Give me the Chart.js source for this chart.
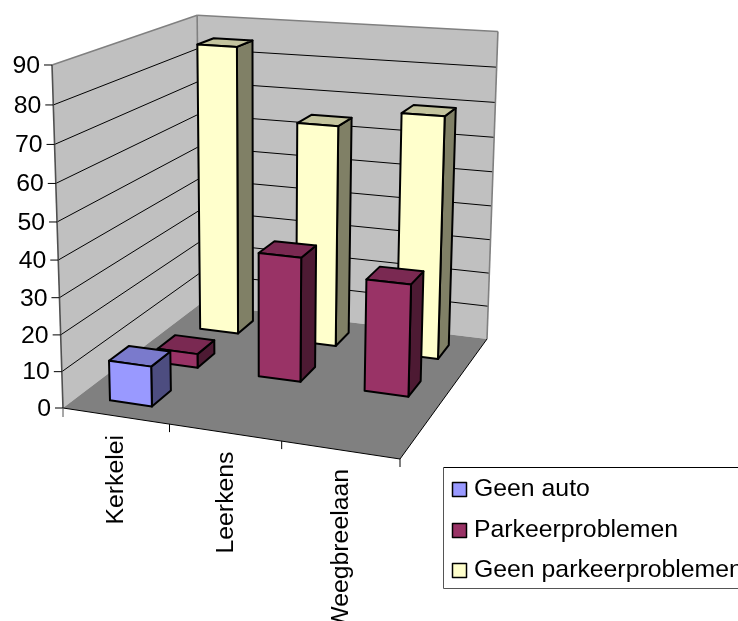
<!DOCTYPE html>
<html>
<head>
<meta charset="utf-8">
<style>html,body{margin:0;padding:0;background:#fff;overflow:hidden}canvas{display:block}</style>
<script src="https://cdn.jsdelivr.net/npm/chart.js@4"></script>
</head>
<body>
<canvas id="c" width="738" height="621"></canvas>
<script>
const categories = ["Kerkelei", "Leerkens", "Weegbreelaan"];
const seriesNames = ["Geen auto", "Parkeerproblemen", "Geen parkeerproblemen"];
const geenAuto = [11, null, null];
const parkeerproblemen = [4, 35, 31];
const geenParkeerproblemen = [85, 64.5, 69.5];
const valueTicks = [0, 10, 20, 30, 40, 50, 60, 70, 80, 90];

const faceColors = [
  {front:"#9999FF", top:"#7A7ACC", side:"#4D4D80"},
  {front:"#993366", top:"#7A2952", side:"#4D1A33"},
  {front:"#FFFFCC", top:"#C4C49E", side:"#808066"}
];
const FONT = '24.8px "Liberation Sans", Arial, sans-serif';
const BAR_FRACTION = 0.4;

// Perspective frame of the floor plus the vanishing point of the verticals
const floor = {x00:63,y00:408, x10:400,y10:459, x11:487,y11:339, x01:200,y01:304};
const vanish = {x:263, y:6650, k:-0.05209};

function makeProjection(q){
  const dx1=q.x10-q.x11, dx2=q.x01-q.x11, sx=q.x00-q.x10+q.x11-q.x01;
  const dy1=q.y10-q.y11, dy2=q.y01-q.y11, sy=q.y00-q.y10+q.y11-q.y01;
  const det=dx1*dy2-dx2*dy1;
  const g=(sx*dy2-dx2*sy)/det, h=(dx1*sy-sx*dy1)/det;
  const a=q.x10-q.x00+g*q.x10, b=q.x01-q.x00+h*q.x01, c=q.x00;
  const d=q.y10-q.y00+g*q.y10, e=q.y01-q.y00+h*q.y01, f=q.y00;
  return (u,w,t)=>{
    const kt=vanish.k*t, W=g*u+h*w+1+kt;
    return [(a*u+b*w+c+kt*vanish.x)/W,(d*u+e*w+f+kt*vanish.y)/W];
  };
}
const project = makeProjection(floor);

function poly(ctx,pts,fill,stroke,lw){
  ctx.beginPath();
  pts.forEach((p,i)=>i?ctx.lineTo(p[0],p[1]):ctx.moveTo(p[0],p[1]));
  ctx.closePath();
  if(fill){ctx.fillStyle=fill;ctx.fill();}
  if(stroke){ctx.strokeStyle=stroke;ctx.lineWidth=lw;ctx.lineJoin="round";ctx.stroke();}
}
function line(ctx,a,b,color,lw){
  ctx.beginPath();ctx.moveTo(a[0],a[1]);ctx.lineTo(b[0],b[1]);
  ctx.strokeStyle=color;ctx.lineWidth=lw;ctx.stroke();
}

const scene3d = {
  id:"scene3d",
  beforeDatasetDraw(){return false;},
  beforeDatasetsDraw(chart){
    const ctx=chart.ctx, sx=chart.scales.x, sy=chart.scales.y, sz=chart.scales.z;
    const U=i=>(sx.getPixelForValue(i)-sx.left)/sx.width;
    const W=j=>(sz.getPixelForValue(j)-sz.left)/sz.width;
    const T=v=>(sy.bottom-sy.getPixelForValue(v))/sy.height;
    ctx.save();
    // walls
    poly(ctx,[project(0,0,0),project(0,1,0),project(0,1,1),project(0,0,1)],"#C0C0C0");
    poly(ctx,[project(0,1,0),project(1,1,0),project(1,1,1),project(0,1,1)],"#C0C0C0");
    // gridlines
    valueTicks.forEach(v=>{
      if(v===0||v===90) return;
      const t=T(v);
      line(ctx,project(0,0,t),project(0,1,t),"#000",1);
      line(ctx,project(0,1,t),project(1,1,t),"#000",1);
    });
    // wall borders
    line(ctx,project(0,0,1),project(0,1,1),"#808080",1.6);
    line(ctx,project(0,1,1),project(1,1,1),"#808080",1.6);
    line(ctx,project(1,1,1),project(1,1,0),"#808080",1.6);
    line(ctx,project(0,1,1),project(0,1,0),"#808080",1.6);
    line(ctx,project(0,0,1),project(0,0,0),"#505050",1.6);
    // floor
    poly(ctx,[project(0,0,0),project(1,0,0),project(1,1,0),project(0,1,0)],"#808080");
    line(ctx,project(0,0,0),project(1,0,0),"#000",1);
    line(ctx,project(1,0,0),project(1,1,0),"#000",1);
    // value axis ticks and labels
    ctx.font=FONT;ctx.textAlign="right";ctx.textBaseline="middle";ctx.fillStyle="#000";
    valueTicks.forEach(v=>{
      const p=project(0,0,T(v));
      line(ctx,[p[0]-8,p[1]],p,"#000",1);
      ctx.fillStyle="#000";
      ctx.fillText(String(v),p[0]-12,p[1]+1);
    });
    // category ticks and labels
    const cellW=1/categories.length;
    categories.forEach((name,i)=>{
      const uc=U(i);
      const edge=project(uc+cellW/2,0,0);
      line(ctx,edge,[edge[0],edge[1]+8],"#000",1);
      const mid=project(uc,0,0);
      ctx.save();
      ctx.translate(mid[0],mid[1]+19);
      ctx.rotate(-Math.PI/2);
      ctx.textAlign="right";ctx.textBaseline="middle";ctx.fillStyle="#000";
      ctx.fillText(name,0,1);
      ctx.restore();
    });
    const o=project(0,0,0);
    line(ctx,o,[o[0],o[1]+9],"#505050",1);
    // bars back to front
    for(let j=chart.data.datasets.length-1;j>=0;j--){
      const ds=chart.data.datasets[j], c=faceColors[j];
      const halfW=BAR_FRACTION/(2*seriesNames.length);
      const halfU=BAR_FRACTION/(2*categories.length);
      ds.data.forEach((v,i)=>{
        if(v==null) return;
        const u0=U(i)-halfU,u1=U(i)+halfU,w0=W(j)-halfW,w1=W(j)+halfW,t=T(v);
        const lw=2;
        poly(ctx,[project(u1,w0,0),project(u1,w1,0),project(u1,w1,t),project(u1,w0,t)],c.side,"#000",lw);
        poly(ctx,[project(u0,w0,t),project(u1,w0,t),project(u1,w1,t),project(u0,w1,t)],c.top,"#000",lw);
        poly(ctx,[project(u0,w0,0),project(u1,w0,0),project(u1,w0,t),project(u0,w0,t)],c.front,"#000",lw);
      });
    }
    // legend
    ctx.strokeStyle="#000";ctx.lineWidth=1;
    ctx.beginPath();ctx.moveTo(738,467.5);ctx.lineTo(443.5,467.5);ctx.stroke();
    ctx.strokeStyle="#555";
    ctx.beginPath();ctx.moveTo(443.5,467.5);ctx.lineTo(443.5,588.5);ctx.lineTo(738,588.5);ctx.stroke();
    const rows=[482,523,563];
    chart.data.datasets.forEach((ds,j)=>{
      ctx.fillStyle=faceColors[j].front;
      ctx.fillRect(452.5,rows[j]+.5,14,14);
      ctx.strokeStyle="#000";ctx.lineWidth=1.5;
      ctx.strokeRect(452.5,rows[j]+.5,14,14);
      ctx.fillStyle="#000";ctx.textAlign="left";ctx.textBaseline="alphabetic";
      ctx.fillText(ds.label,474,rows[j]+14);
    });
    ctx.restore();
  }
};

new Chart(document.getElementById("c"),{
  type:"bar",
  data:{
    labels:categories,
    datasets:[
      {label:seriesNames[0],data:geenAuto,backgroundColor:faceColors[0].front,xAxisID:"x",yAxisID:"y"},
      {label:seriesNames[1],data:parkeerproblemen,backgroundColor:faceColors[1].front,xAxisID:"x",yAxisID:"y"},
      {label:seriesNames[2],data:geenParkeerproblemen,backgroundColor:faceColors[2].front,xAxisID:"x",yAxisID:"y"}
    ]
  },
  options:{
    responsive:false,
    animation:false,
    layout:{padding:0},
    events:[],
    plugins:{legend:{display:false},title:{display:false},tooltip:{enabled:false}},
    scales:{
      x:{type:"category",display:false,offset:true},
      y:{type:"linear",display:false,min:0,max:90},
      z:{type:"category",axis:"x",display:false,offset:true,labels:seriesNames}
    }
  },
  plugins:[scene3d]
});
</script>
</body>
</html>
